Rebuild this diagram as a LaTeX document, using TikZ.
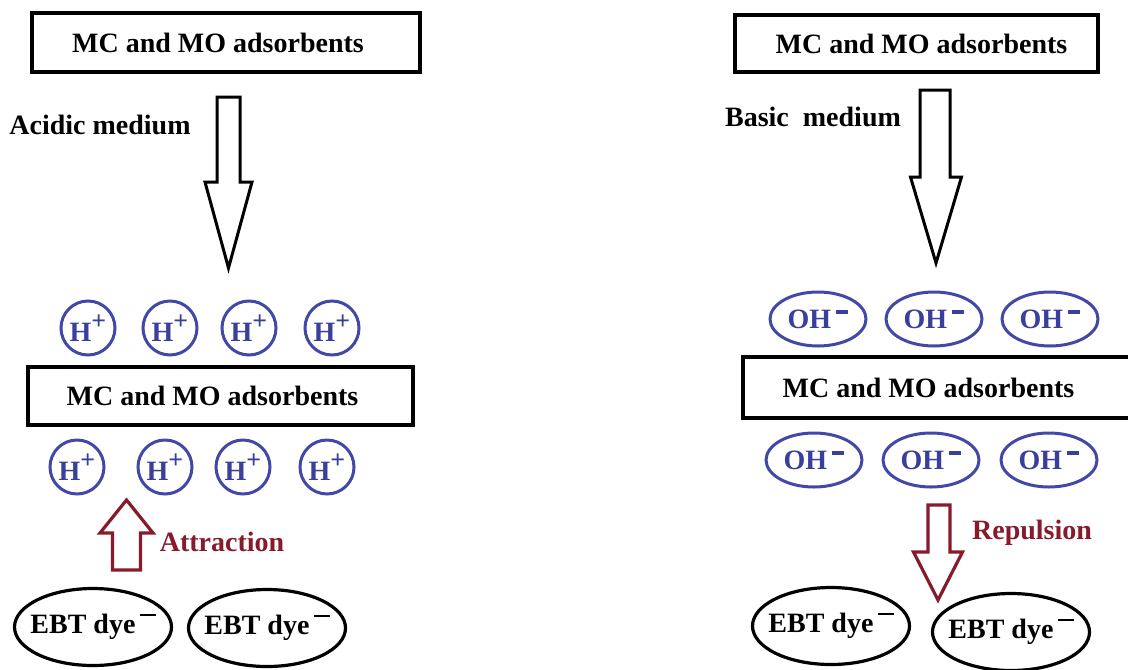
\documentclass[tikz,border=0pt]{standalone}
\usepackage{fontspec}
\setmainfont{Liberation Serif}[BoldFont={Liberation Serif Bold}]
\usepackage{tikz}
\usetikzlibrary{shapes.geometric}
\usetikzlibrary{calc}
\definecolor{ionblue}{HTML}{4248A8}
\definecolor{iontext}{HTML}{3A3F9C}
\definecolor{forcered}{HTML}{871B2C}
\newcommand{\plusup}{\raisebox{0.42em}{\fontsize{13}{13}\selectfont+}}
\newcommand{\minusup}{\,\raisebox{0.5em}{\rule{0.45em}{0.14em}}}
\newcommand{\dyeminus}{\,\raisebox{0.62em}{\rule{0.55em}{0.07em}}}

\begin{document}
\begin{tikzpicture}[x=0.5pt,y=-0.5pt,
every node/.style = {font=\fontsize{14}{16}\selectfont\bfseries},
every label/.style = {font=\fontsize{14}{16}\selectfont\bfseries, inner sep=0pt},
adsbox/.style = {draw, line width=2pt, rectangle, inner sep=0pt},
ion/.style = {draw=ionblue, text=iontext, line width=1.5pt, circle,
  minimum size=27pt, inner sep=0pt},
ionoval/.style = {draw=ionblue, text=iontext, line width=1.5pt, ellipse,
  minimum width=48pt, minimum height=27pt, inner sep=0pt},
dye/.style = {draw, line width=1.6pt, ellipse,
  minimum width=78.5pt, minimum height=38.5pt, inner sep=0pt,
  label=center:EBT dye\dyeminus},
bigarrow/.style = {draw, line width=1.5pt, fill=white, line join=miter},
forcearrow/.style = {draw=forcered, line width=1.6pt, fill=white, line join=miter},
forcelabel/.style = {text=forcered}
]
\useasboundingbox (0,0) rectangle (1128,669);

% acidic medium (left)
\node [adsbox, minimum width=194pt, minimum height=29.5pt,
  label={[xshift=-4pt]center:MC and MO adsorbents}] (acidtopbox) at (226,42.5) {};
\node (acidlabel) at (100,125) {Acidic medium};

\pgfmathsetmacro{\shaft}{11.5}
\pgfmathsetmacro{\head}{23.5}
\coordinate (acidtop) at (228.5,97);
\coordinate (acidtip) at (228.5,268);
\draw [bigarrow] ($ (acidtop) + (-\shaft,0) $)
  -- ($ (acidtop) + (\shaft,0) $)
  -- ($ (acidtop) + (\shaft,85) $)
  -- ($ (acidtop) + (\head,85) $)
  -- (acidtip)
  -- ($ (acidtop) + (-\head,85) $)
  -- ($ (acidtop) + (-\shaft,85) $)
  -- cycle;

\foreach \x [count=\i] in {88,170,249,332}
  \node [ion] (hup\i) at (\x,328) {H\plusup};
\node [adsbox, minimum width=192.5pt, minimum height=29pt,
  label={[xshift=-4pt]center:MC and MO adsorbents}] (acidmidbox) at (220.5,396) {};
\foreach \x [count=\i] in {77,165,243,327}
  \node [ion] (hdown\i) at (\x,467) {H\plusup};

\pgfmathsetmacro{\shaft}{14}
\pgfmathsetmacro{\head}{26.5}
\coordinate (attrbase) at (126.5,570);
\coordinate (attrtip) at (126.5,500);
\draw [forcearrow] ($ (attrbase) + (-\shaft,0) $)
  -- ($ (attrbase) + (\shaft,0) $)
  -- ($ (attrbase) + (\shaft,-37) $)
  -- ($ (attrbase) + (\head,-37) $)
  -- (attrtip)
  -- ($ (attrbase) + (-\head,-37) $)
  -- ($ (attrbase) + (-\shaft,-37) $)
  -- cycle;
\node [forcelabel] (attrlabel) at (222,542) {Attraction};

\node [dye] (acidebt1) at (93,627) {};
\node [dye] (acidebt2) at (267,628) {};

% basic medium (right)
\node [adsbox, minimum width=181.5pt, minimum height=28.5pt,
  label={[xshift=2.5pt]center:MC and MO adsorbents}] (basetopbox) at (916.5,43.5) {};
\node (baselabel) at (813,117) {Basic~ medium};

\pgfmathsetmacro{\shaft}{15}
\pgfmathsetmacro{\head}{24.5}
\coordinate (basetop) at (935,90);
\coordinate (basetip) at (936,263);
\draw [bigarrow] ($ (basetop) + (-\shaft,0) $)
  -- ($ (basetop) + (\shaft,0) $)
  -- ($ (basetop) + (\shaft,87) $)
  -- ($ (basetop) + (\head+2,87) $)
  -- (basetip)
  -- ($ (basetop) + (-\head,87) $)
  -- ($ (basetop) + (-\shaft,87) $)
  -- cycle;

\foreach \x [count=\i] in {818,934,1050}
  \node [ionoval] (ohup\i) at (\x,319) {OH\minusup};
\node [adsbox, minimum width=195.5pt, minimum height=30.5pt,
  label={[xshift=-5pt]center:MC and MO adsorbents}] (basemidbox) at (938.5,387.5) {};
\foreach \x [count=\i] in {814,931,1049}
  \node [ionoval] (ohdown\i) at (\x,460) {OH\minusup};

\pgfmathsetmacro{\shaft}{11}
\pgfmathsetmacro{\head}{24.5}
\coordinate (repbase) at (939,505);
\coordinate (reptip) at (938,600);
\draw [forcearrow] ($ (repbase) + (-\shaft,0) $)
  -- ($ (repbase) + (\shaft,0) $)
  -- ($ (repbase) + (\shaft,47) $)
  -- ($ (repbase) + (\head-1,47) $)
  -- (reptip)
  -- ($ (repbase) + (-\head-1,47) $)
  -- ($ (repbase) + (-\shaft,47) $)
  -- cycle;
\node [forcelabel] (replabel) at (1032,533) {Repulsion};

\node [dye] (baseebt1) at (831,626) {};
\node [dye] (baseebt2) at (1011,632) {};

\end{tikzpicture}
\end{document}
